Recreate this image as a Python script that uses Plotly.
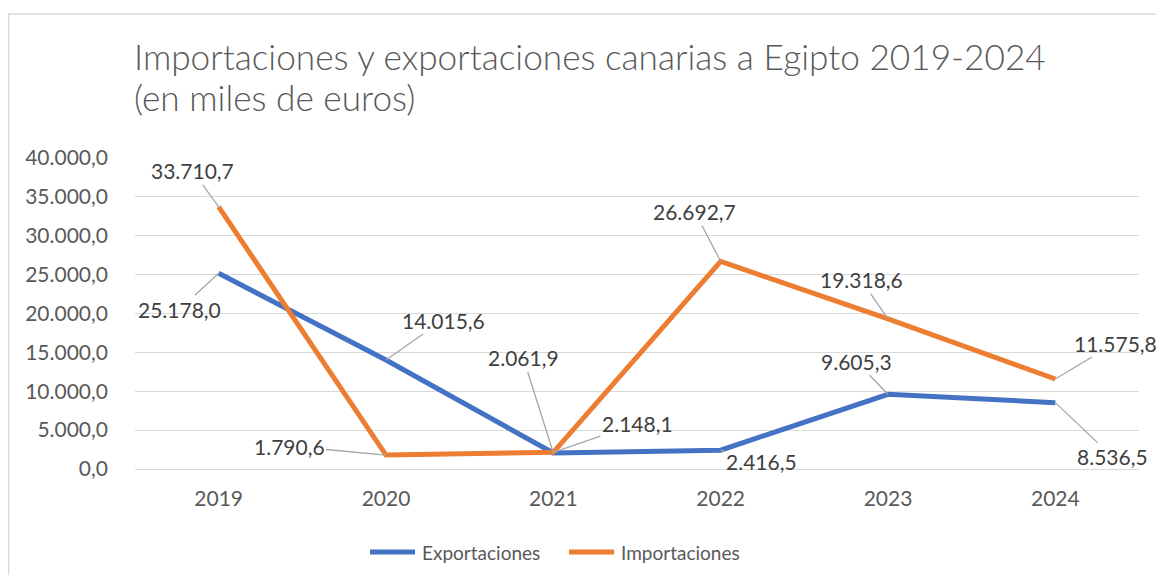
import plotly.graph_objects as go

# Datos (miles de euros)
anios = ["2019", "2020", "2021", "2022", "2023", "2024"]
exportaciones = [25178.0, 14015.6, 2061.9, 2416.5, 9605.3, 8536.5]
importaciones = [33710.7, 1790.6, 2148.1, 26692.7, 19318.6, 11575.8]
ticks_y = [0, 5000, 10000, 15000, 20000, 25000, 30000, 35000, 40000]

# desplazamientos (px) de las etiquetas respecto al punto
_OFF_EXP = [(-39, 36), (57, -40), (-30, -95), (41, 11), (-32, -33), (57, 54)]
_OFF_IMP = [(-26, -36), (-97, -9), (84, -29), (-26, -50), (-27, -39), (60, -36)]

_FONT = "Lato, Carlito, Calibri, sans-serif"
_GRIS = "#595959"
_AZUL = "#4472C4"
_NARANJA = "#ED7D31"

# la página añade 8 px de margen; se compensa aquí
_W, _H = 1156, 567
_L, _R, _T, _B = 127, 25, 150, 106
_PW = _W - _L - _R
_PH = _H - _T - _B


def _fmt(v: float) -> str:
    """Formato español: 25.178,0"""
    s = f"{v:,.1f}"
    return s.replace(",", "X").replace(".", ",").replace("X", ".")


def _py(px_y: float) -> float:
    """píxel vertical de la figura -> coordenada paper"""
    return 1 + (_T - px_y) / _PH


def _px(px_x: float) -> float:
    return (px_x - _L) / _PW


fig = go.Figure()
fig.add_trace(go.Scatter(
    x=anios, y=exportaciones, name="Exportaciones", mode="lines",
    line=dict(color=_AZUL, width=5),
))
fig.add_trace(go.Scatter(
    x=anios, y=importaciones, name="Importaciones", mode="lines",
    line=dict(color=_NARANJA, width=5),
))

annotations = []
for serie, offs in ((exportaciones, _OFF_EXP), (importaciones, _OFF_IMP)):
    for i, (val, (dx, dy)) in enumerate(zip(serie, offs)):
        annotations.append(dict(
            x=i, y=val, xref="x", yref="y", text=_fmt(val), ax=dx, ay=dy,
            showarrow=True, arrowhead=0, arrowwidth=1.3, arrowcolor="#A6A6A6",
            standoff=0, font=dict(family=_FONT, size=21, color="#404040"),
        ))

# título en dos líneas
for texto, yc in (("Importaciones y exportaciones canarias a Egipto 2019-2024", 48),
                  ("(en miles de euros)", 89)):
    annotations.append(dict(
        text=texto, xref="paper", yref="paper", x=_px(124), y=_py(yc),
        xanchor="left", yanchor="middle", showarrow=False,
        font=dict(family=_FONT, size=35.2, color=_GRIS, weight=300),
    ))

# leyenda dibujada a mano (símbolo más largo que el de plotly)
shapes = []
for nombre, color, x0 in (("Exportaciones", _AZUL, 360), ("Importaciones", _NARANJA, 559)):
    shapes.append(dict(
        type="line", xref="paper", yref="paper",
        x0=_px(x0 + 2), x1=_px(x0 + 47), y0=_py(544), y1=_py(544),
        line=dict(color=color, width=5),
    ))
    annotations.append(dict(
        text=nombre, xref="paper", yref="paper", x=_px(x0 + 52), y=_py(544),
        xanchor="left", yanchor="middle", showarrow=False,
        font=dict(family=_FONT, size=19, color=_GRIS),
    ))

# marco del gráfico
shapes.append(dict(
    type="rect", xref="paper", yref="paper",
    x0=_px(0.5), x1=_px(_W + 20),
    y0=_py(_H + 20), y1=_py(6),
    line=dict(color="#D9D9D9", width=1.5), layer="below",
))

fig.update_layout(
    width=_W, height=_H,
    paper_bgcolor="white", plot_bgcolor="white",
    margin=dict(l=_L, r=_R, t=_T, b=_B, autoexpand=False),
    separators=",.",
    showlegend=False,
    font=dict(family=_FONT, size=21, color=_GRIS),
    xaxis=dict(
        type="category", range=[-0.5, 5.5], showgrid=False,
        showline=False, ticks="", ticklabelstandoff=15,
        tickfont=dict(size=21, color=_GRIS),
    ),
    yaxis=dict(
        range=[0, 40000], tickvals=ticks_y, tickformat=",.1f",
        showgrid=True, gridcolor="#D9D9D9", gridwidth=1.3,
        zeroline=True, zerolinecolor="#D9D9D9", zerolinewidth=1.3,
        ticks="", ticklabelstandoff=26, tickfont=dict(size=21, color=_GRIS),
    ),
    annotations=annotations,
    shapes=shapes,
)

fig.write_html("out.html")
